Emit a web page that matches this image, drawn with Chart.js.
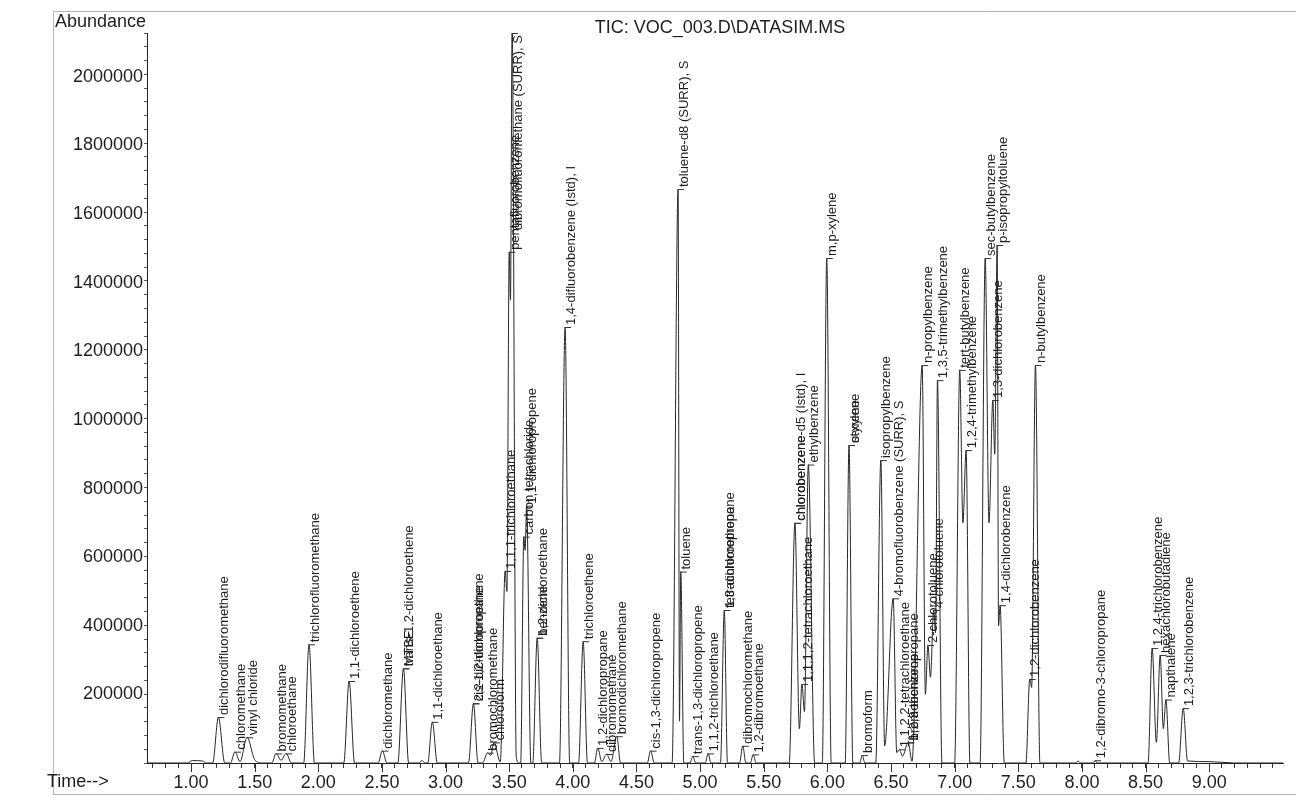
<!DOCTYPE html>
<html>
<head>
<meta charset="utf-8">
<script src="https://cdn.jsdelivr.net/npm/chart.js@4.4.1/dist/chart.umd.min.js"></script>
<style>
  body { margin: 0; background: #fff; }
  #wrap { width: 1296px; height: 803px; position: relative; }
</style>
</head>
<body>
<div id="wrap"><canvas id="tic"></canvas></div>
<script>
// TIC trace, [retention time (min), abundance]
var trace = [
    [0.66, 0], [0.97, 0], [1.01, 7000], [1.09, 6000], [1.12, 0],
    [1.17, 0], [1.215, 134000], [1.265, 0],
    [1.31, 0], [1.345, 33000], [1.385, 4000], [1.44, 75000], [1.50, 10000], [1.56, 0],
    [1.635, 0], [1.668, 28000], [1.707, 8000], [1.747, 28000], [1.79, 0],
    [1.885, 0], [1.927, 346000], [1.97, 0],
    [2.20, 0], [2.242, 239000], [2.285, 0],
    [2.47, 0], [2.503, 36000], [2.54, 0],
    [2.625, 0], [2.669, 276000], [2.71, 0],
    [2.79, 0], [2.813, 7000], [2.84, 0],
    [2.86, 0], [2.896, 120000], [2.935, 0],
    [3.18, 0], [3.219, 174000], [3.255, 0],
    [3.29, 0], [3.33, 30000], [3.355, 22000], [3.38, 60000], [3.43, 3000],
    [3.468, 560000], [3.482, 500000], [3.50, 1490000], [3.51, 1350000], [3.523, 2150000], [3.555, 20000], [3.575, 0],
    [3.59, 0], [3.615, 660000], [3.625, 620000], [3.637, 750000], [3.67, 0],
    [3.685, 0], [3.72, 365000], [3.755, 0],
    [3.895, 0], [3.939, 1271000], [3.975, 0],
    [4.045, 0], [4.081, 355000], [4.115, 0],
    [4.17, 0], [4.195, 44000], [4.228, 4000], [4.265, 26000], [4.30, 4000], [4.345, 78000], [4.375, 0],
    [4.585, 0], [4.611, 36000], [4.64, 0],
    [4.78, 0], [4.827, 1673000], [4.838, 122000], [4.848, 558000], [4.872, 0],
    [4.92, 0], [4.943, 20000], [4.965, 0],
    [5.04, 0], [5.063, 28000], [5.085, 0],
    [5.16, 0], [5.19, 446000], [5.215, 0],
    [5.31, 0], [5.335, 50000], [5.36, 0],
    [5.395, 0], [5.417, 25000], [5.44, 0],
    [5.70, 0], [5.745, 700000], [5.78, 100000], [5.80, 230000], [5.82, 150000], [5.85, 870000], [5.90, 0],
    [5.96, 0], [5.995, 1472000], [6.03, 0],
    [6.14, 0], [6.17, 927000], [6.20, 0],
    [6.255, 0], [6.273, 23000], [6.295, 0],
    [6.38, 0], [6.42, 883000], [6.45, 50000], [6.517, 480000], [6.545, 30000], [6.565, 40000], [6.59, 20000],
    [6.635, 60000], [6.665, 5000], [6.745, 1160000], [6.77, 200000], [6.79, 344000], [6.81, 250000],
    [6.835, 446000], [6.85, 380000], [6.865, 1116000], [6.90, 0],
    [7.00, 0], [7.04, 1146000], [7.065, 700000], [7.09, 912000], [7.12, 0],
    [7.20, 0], [7.24, 1472000], [7.27, 700000], [7.30, 1058000], [7.315, 900000], [7.334, 1510000],
    [7.345, 400000], [7.357, 460000], [7.39, 0],
    [7.56, 0], [7.59, 245000], [7.605, 220000], [7.635, 1160000], [7.67, 0],
    [7.95, 0], [7.97, 6000], [7.99, 0],
    [8.09, 0], [8.104, 8000], [8.12, 0],
    [8.52, 0], [8.552, 335000], [8.585, 60000], [8.615, 315000], [8.64, 100000], [8.66, 185000], [8.69, 0],
    [8.76, 0], [8.796, 160000], [8.83, 6000], [9.0, 4000], [9.2, 0], [9.58, 0]
];

// peak labels: name, retention time, abundance at the apex
var compoundNames = [
    "dichlorodifluoromethane", "chloromethane", "vinyl chloride", "bromomethane", "chloroethane",
    "trichlorofluoromethane", "1,1-dichloroethene", "dichloromethane", "MTBE", "trans-1,2-dichloroethene",
    "1,1-dichloroethane", "cis-1,2-dichloroethene", "2,2-dichloropropane", "bromochloromethane", "chloroform",
    "1,1,1-trichloroethane", "pentafluorobenzene", "dibromofluoromethane (SURR), S", "carbon tetrachloride",
    "1,1-dichloropropene", "benzene", "1,2-dichloroethane", "1,4-difluorobenzene (Istd), I", "trichloroethene",
    "1,2-dichloropropane", "dibromomethane", "bromodichloromethane", "cis-1,3-dichloropropene",
    "toluene-d8 (SURR), S", "toluene", "trans-1,3-dichloropropene", "1,1,2-trichloroethane",
    "tetrachloroethene", "1,3-dichloropropane", "dibromochloromethane", "1,2-dibromoethane",
    "chlorobenzene", "chlorobenzene-d5 (Istd), I", "1,1,1,2-tetrachloroethane", "ethylbenzene", "m,p-xylene",
    "o-xylene", "styrene", "bromoform", "isopropylbenzene", "4-bromofluorobenzene (SURR), S",
    "1,1,2,2-tetrachloroethane", "bromobenzene", "1,2,3-trichloropropane", "n-propylbenzene",
    "2-chlorotoluene", "4-chlorotoluene", "1,3,5-trimethylbenzene", "tert-butylbenzene",
    "1,2,4-trimethylbenzene", "sec-butylbenzene", "1,3-dichlorobenzene", "p-isopropyltoluene",
    "1,4-dichlorobenzene", "1,2-dichlorobenzene", "n-butylbenzene", "1,2-dibromo-3-chloropropane",
    "1,2,4-trichlorobenzene", "hexachlorobutadiene", "napthalene", "1,2,3-trichlorobenzene"
];
var compoundTimes = [
    1.215, 1.345, 1.44, 1.668, 1.747,
    1.927, 2.242, 2.503, 2.669, 2.669,
    2.896, 3.219, 3.219, 3.33, 3.38,
    3.468, 3.50, 3.523, 3.615,
    3.637, 3.72, 3.72, 3.939, 4.081,
    4.195, 4.265, 4.345, 4.611,
    4.827, 4.848, 4.943, 5.063,
    5.19, 5.19, 5.335, 5.417,
    5.745, 5.745, 5.80, 5.85, 5.995,
    6.17, 6.17, 6.273, 6.42, 6.517,
    6.565, 6.635, 6.635, 6.745,
    6.79, 6.835, 6.865, 7.04,
    7.09, 7.24, 7.30, 7.334,
    7.357, 7.59, 7.635, 8.104,
    8.552, 8.615, 8.66, 8.796
];
var compoundAbundance = [
    134000, 33000, 75000, 28000, 28000,
    346000, 239000, 36000, 276000, 276000,
    120000, 174000, 174000, 30000, 60000,
    560000, 1490000, 2150000, 660000,
    750000, 365000, 365000, 1271000, 355000,
    44000, 26000, 78000, 36000,
    1673000, 558000, 20000, 28000,
    446000, 446000, 50000, 25000,
    700000, 700000, 230000, 870000, 1472000,
    927000, 927000, 23000, 883000, 480000,
    40000, 60000, 60000, 1160000,
    344000, 446000, 1116000, 1146000,
    912000, 1472000, 1058000, 1510000,
    460000, 245000, 1160000, 8000,
    335000, 315000, 185000, 160000
];

var yTickLabels = [200000, 400000, 600000, 800000, 1000000, 1200000, 1400000, 1600000, 1800000, 2000000];
var xTickLabels = ["1.00", "1.50", "2.00", "2.50", "3.00", "3.50", "4.00", "4.50", "5.00", "5.50", "6.00", "6.50", "7.00", "7.50", "8.00", "8.50", "9.00"];

var FONT = "'Liberation Sans', Arial, sans-serif";

var printout = {
    id: "printout",
    afterDraw: function (chart) {
        var ctx = chart.ctx;
        var xs = chart.scales.x, ys = chart.scales.y;
        var area = chart.chartArea;
        ctx.save();

        // page frame
        ctx.strokeStyle = "#b5b5b5";
        ctx.lineWidth = 1;
        ctx.beginPath();
        ctx.moveTo(53.5, 795); ctx.lineTo(53.5, 11.5); ctx.lineTo(1296, 11.5);
        ctx.moveTo(53, 794.5); ctx.lineTo(1296, 794.5);
        ctx.stroke();

        // longer marks under the labelled times
        ctx.strokeStyle = "#333";
        ctx.beginPath();
        xTickLabels.forEach(function (s) {
            var px = Math.round(xs.getPixelForValue(parseFloat(s))) + 0.5;
            ctx.moveTo(px, area.bottom);
            ctx.lineTo(px, area.bottom + 9);
        });
        ctx.stroke();

        ctx.fillStyle = "#1e1e1e";
        ctx.font = "18px " + FONT;
        ctx.textBaseline = "middle";
        ctx.textAlign = "right";
        yTickLabels.forEach(function (v) {
            ctx.fillText(String(v), area.left - 4, ys.getPixelForValue(v));
        });
        ctx.textAlign = "left";
        ctx.fillText("Abundance", 55, 22);
        ctx.fillText("Time-->", 47, 782);
        ctx.textAlign = "center";
        ctx.fillText("TIC: VOC_003.D\\DATASIM.MS", 720, 28);

        // compound names above each peak
        ctx.font = "13px " + FONT;
        ctx.strokeStyle = "#333";
        for (var i = 0; i < compoundNames.length; i++) {
            var px = xs.getPixelForValue(compoundTimes[i]);
            var py = ys.getPixelForValue(compoundAbundance[i]);
            var w = ctx.measureText(compoundNames[i]).width;
            var start = py - 2;
            if (start - w < area.top + 2) start = area.top + 2 + w;
            ctx.beginPath();
            ctx.moveTo(px, Math.max(py, area.top) + 0.5);
            ctx.lineTo(px + 6, Math.max(py, area.top) + 0.5);
            ctx.stroke();
            ctx.save();
            ctx.translate(px + 6, start);
            ctx.rotate(-Math.PI / 2);
            ctx.textAlign = "left";
            ctx.textBaseline = "middle";
            ctx.fillText(compoundNames[i], 0, 0);
            ctx.restore();
        }
        ctx.restore();
    }
};

var myChart = new Chart(document.getElementById("tic"), {
    type: "line",
    data: {
        datasets: [{
            label: "TIC",
            data: trace.map(function (p) { return { x: p[0], y: p[1] }; }),
            borderColor: "#262626",
            borderWidth: 1,
            pointRadius: 0,
            cubicInterpolationMode: "monotone",
            fill: false
        }]
    },
    options: {
        responsive: true,
        maintainAspectRatio: false,
        animation: false,
        layout: { padding: { left: 0, right: 13, top: 33, bottom: 0 } },
        plugins: {
            legend: { display: false },
            tooltip: { enabled: false },
            title: { display: false }
        },
        scales: {
            x: {
                type: "linear",
                min: 0.654,
                max: 9.58,
                afterFit: function (s) { s.height = 40; },
                border: { color: "#222", width: 1 },
                grid: { drawOnChartArea: false, drawTicks: true, tickLength: 5, color: "#333" },
                ticks: {
                    stepSize: 0.1,
                    includeBounds: false,
                    autoSkip: false,
                    maxRotation: 0,
                    padding: 4,
                    color: "#1e1e1e",
                    font: { family: FONT, size: 18 },
                    callback: function (v) {
                        var s = Number(v).toFixed(2);
                        return xTickLabels.indexOf(s) >= 0 ? s : "";
                    }
                }
            },
            y: {
                type: "linear",
                min: 0,
                max: 2128000,
                afterFit: function (s) { s.width = 147; },
                border: { color: "#222", width: 1 },
                grid: { drawOnChartArea: false, drawTicks: true, tickLength: 3, color: "#555" },
                ticks: {
                    stepSize: 40000,
                    includeBounds: false,
                    autoSkip: false,
                    // the abundance numbers are written by the printout plugin
                    callback: function () { return ""; }
                }
            }
        }
    },
    plugins: [printout]
});
</script>
</body>
</html>
